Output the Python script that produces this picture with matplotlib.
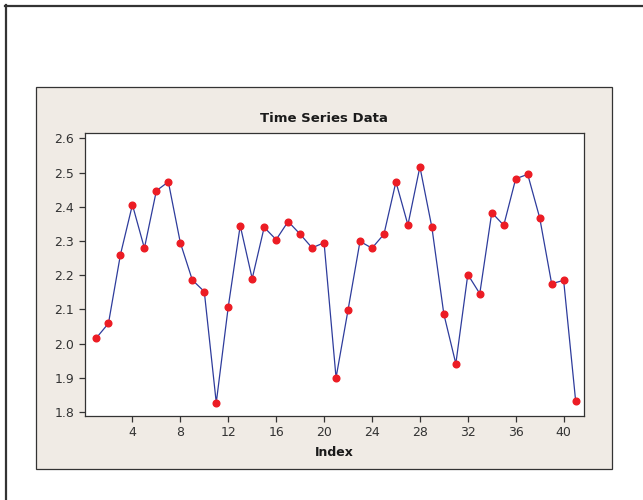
import numpy as np
import matplotlib
matplotlib.use("Agg")
import matplotlib.pyplot as plt
from matplotlib.patches import Rectangle
from matplotlib.lines import Line2D

# Data
index = list(range(1, 42))
values = [2.017, 2.059, 2.260, 2.406, 2.279, 2.447, 2.473, 2.295, 2.186, 2.152,
          1.827, 2.107, 2.345, 2.190, 2.340, 2.304, 2.357, 2.320, 2.280, 2.295,
          1.900, 2.098, 2.299, 2.279, 2.320, 2.473, 2.347, 2.517, 2.340, 2.086,
          1.941, 2.202, 2.146, 2.383, 2.346, 2.482, 2.495, 2.368, 2.175, 2.185,
          1.833]
xticks = [4, 8, 12, 16, 20, 24, 28, 32, 36, 40]
yticks = [1.8, 1.9, 2.0, 2.1, 2.2, 2.3, 2.4, 2.5, 2.6]

W, H = 643, 500
fig = plt.figure(figsize=(W / 100, H / 100), dpi=100)
fig.patch.set_facecolor("white")

def fx(px):
    return px / W

def fy(py):
    return 1 - py / H

# outer frame (top and left edges visible)
fig.add_artist(Line2D([fx(5), fx(660)], [fy(5.5), fy(5.5)], color="#333333", lw=1.6, zorder=-2))
fig.add_artist(Line2D([fx(5.5), fx(5.5)], [fy(5), fy(520)], color="#333333", lw=1.6, zorder=-2))

# beige panel
fig.add_artist(Rectangle((fx(36), fy(469)), fx(612) - fx(36), fy(87) - fy(469),
                         facecolor="#f0ebe5", edgecolor="#333333", lw=0.9, zorder=-1))

ax = fig.add_axes([fx(84.5), fy(415.7), fx(584) - fx(84.5), fy(133.3) - fy(415.7)])
ax.set_zorder(1)
ax.set_facecolor("white")
ax.plot(index, values, color="#2e3c9c", lw=0.9, marker="o", markersize=4.8,
        markerfacecolor="#ec1c24", markeredgecolor="#ec1c24", zorder=3)

ax.set_xlim(0, 41.7)
ax.set_ylim(1.789, 2.615)
ax.set_xticks(xticks)
ax.set_yticks(yticks)
ax.set_yticklabels([f"{v:.1f}" for v in yticks])
ax.tick_params(direction="out", length=4.5, width=0.9, color="#333333",
               labelcolor="#333333", labelsize=9, pad=3)
for s in ax.spines.values():
    s.set_color("#333333")
    s.set_linewidth(0.9)

fig.text(fx(323.7), fy(119), "Time Series Data", ha="center", va="center",
         fontsize=9.5, fontweight="bold", color="#1a1a1a")
fig.text(fx(334.7), fy(452), "Index", ha="center", va="center",
         fontsize=9, fontweight="bold", color="#1a1a1a")

fig.savefig("out.png", dpi=100)
